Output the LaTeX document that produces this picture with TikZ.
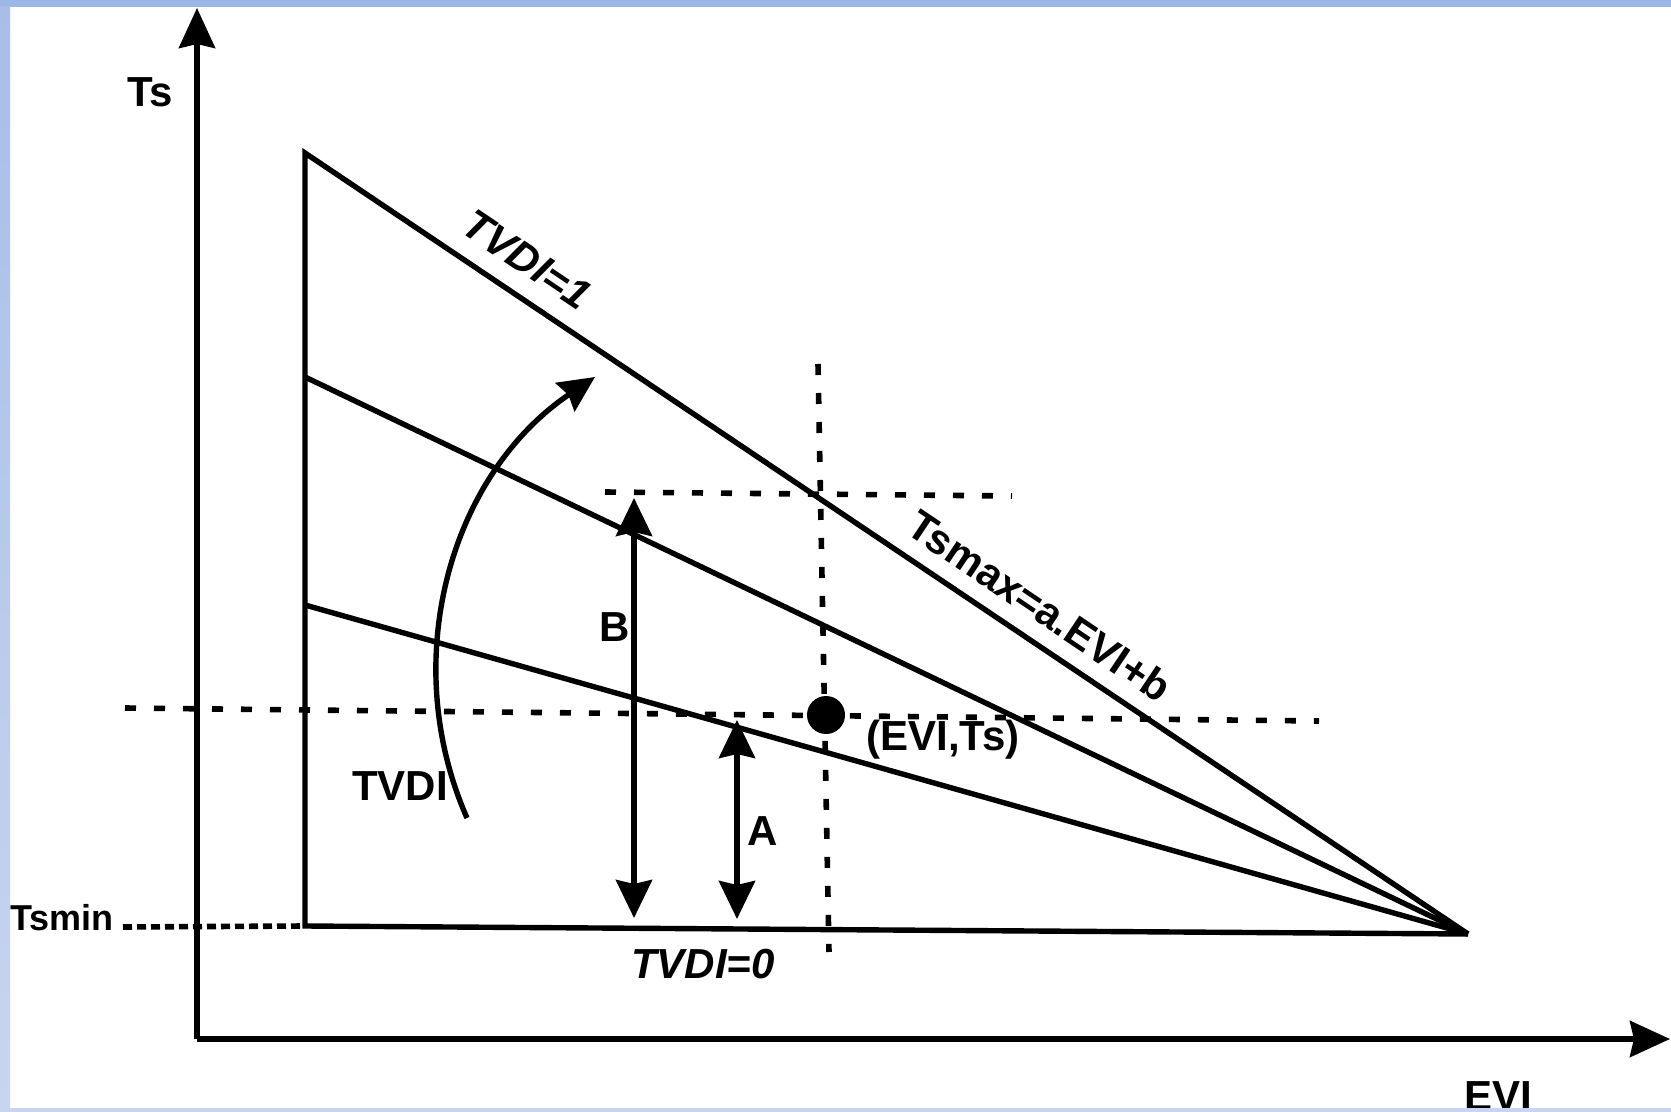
\documentclass[tikz,border=0pt]{standalone}
\usepackage{fontspec}
\setmainfont{Liberation Sans}
\usetikzlibrary{arrows.meta}
\definecolor{frameblue}{RGB}{155,183,229}
\definecolor{frametop}{RGB}{168,190,232}
\definecolor{framelight}{RGB}{200,213,239}

\begin{document}
\begin{tikzpicture}[x=0.5pt, y=-0.5pt,
    axis/.style={line width=2.8pt, -{Stealth[length=20pt, width=18pt, inset=2pt]}},
    edge/.style={line width=2.7pt},
    guide/.style={line width=2.8pt, dash pattern=on 5.5pt off 9pt},
    minguide/.style={line width=2.8pt, dash pattern=on 4.5pt off 2.5pt},
    dim/.style={line width=2.7pt, {Stealth[length=19pt, width=18pt, inset=2pt]}-{Stealth[length=19pt, width=18pt, inset=2pt]}},
    sweep/.style={line width=2.7pt, -{Stealth[length=18pt, width=17pt, inset=2pt]}},
    lbl/.style={inner sep=0pt, font=\fontsize{21}{25}\selectfont\bfseries},
    slant/.style={inner sep=0pt, font=\fontsize{21}{25}\selectfont\bfseries\itshape}
]
\useasboundingbox (0,0) rectangle (1671,1112);
\fill[white] (0,0) rectangle (1671,1112);

% axes
\coordinate (o) at (197,1039);
\coordinate (ytip) at (197,8);
\coordinate (xtip) at (1670,1039);
\draw[axis] (o) -- (ytip);
\draw[axis] (o) -- (xtip);
\node[lbl] (tslbl) at (150,92) {Ts};
\node[lbl] (evilbl) at (1498,1096) {EVI};

% triangle and TVDI isolines
\coordinate (tl) at (305,153);
\coordinate (ml) at (305,377);
\coordinate (ll) at (305,605);
\coordinate (bl) at (305,926);
\coordinate (v) at (1468,934);
\draw[edge] (v) -- (tl) -- (bl) -- (v);
\draw[edge] (ml) -- (v);
\draw[edge] (ll) -- (v);

% guides
\coordinate (tsminend) at (123,927);
\draw[minguide] (tsminend) -- (bl);
\node[lbl, font=\fontsize{18}{22}\selectfont\bfseries] (tsminlbl) at (62,918) {Tsmin};
\coordinate (vtop) at (818,364);
\coordinate (vbot) at (829,952);
\draw[guide] (vtop) -- (vbot);
\coordinate (hl) at (125,708);
\coordinate (hr) at (1319,721);
\draw[guide] (hl) -- (hr);
\coordinate (sl) at (605,492);
\coordinate (sr) at (1012,496);
\draw[guide] (sl) -- (sr);

% pixel
\node[circle, fill, minimum size=19pt, inner sep=0pt] (pt) at (826,715) {};
\node[lbl] (ptlbl) at (943,740) {(EVI,Ts)};

% A and B
\coordinate (btop) at (634,498);
\coordinate (bbot) at (634,918);
\draw[dim] (btop) -- (bbot);
\node[lbl] (blbl) at (615,627) {B};
\coordinate (atop) at (737,720);
\coordinate (abot) at (737,919);
\draw[dim] (atop) -- (abot);
\node[lbl] (albl) at (763,831) {A};

% sweep arrow
\coordinate (sw0) at (467,818);
\coordinate (sw1) at (595,377);
\draw[sweep] (sw0) .. controls (397,659) and (451,474) .. (sw1);
\node[lbl] (tvdilbl) at (400,786) {TVDI};

% line labels
\node[slant, rotate=-33.9] (tvdione) at (527,260) {TVDI=1};
\node[lbl, rotate=-33.9] (tsmaxlbl) at (1040,606) {Tsmax=a.EVI+b};
\node[slant] (tvdizero) at (703,964) {TVDI=0};

% frame
\fill[frameblue] (0,0) rectangle (1671,7);
\shade[top color=frametop, bottom color=framelight] (0,7) rectangle (10,1112);
\fill[framelight] (0,1108) rectangle (1671,1112);
\end{tikzpicture}
\end{document}
